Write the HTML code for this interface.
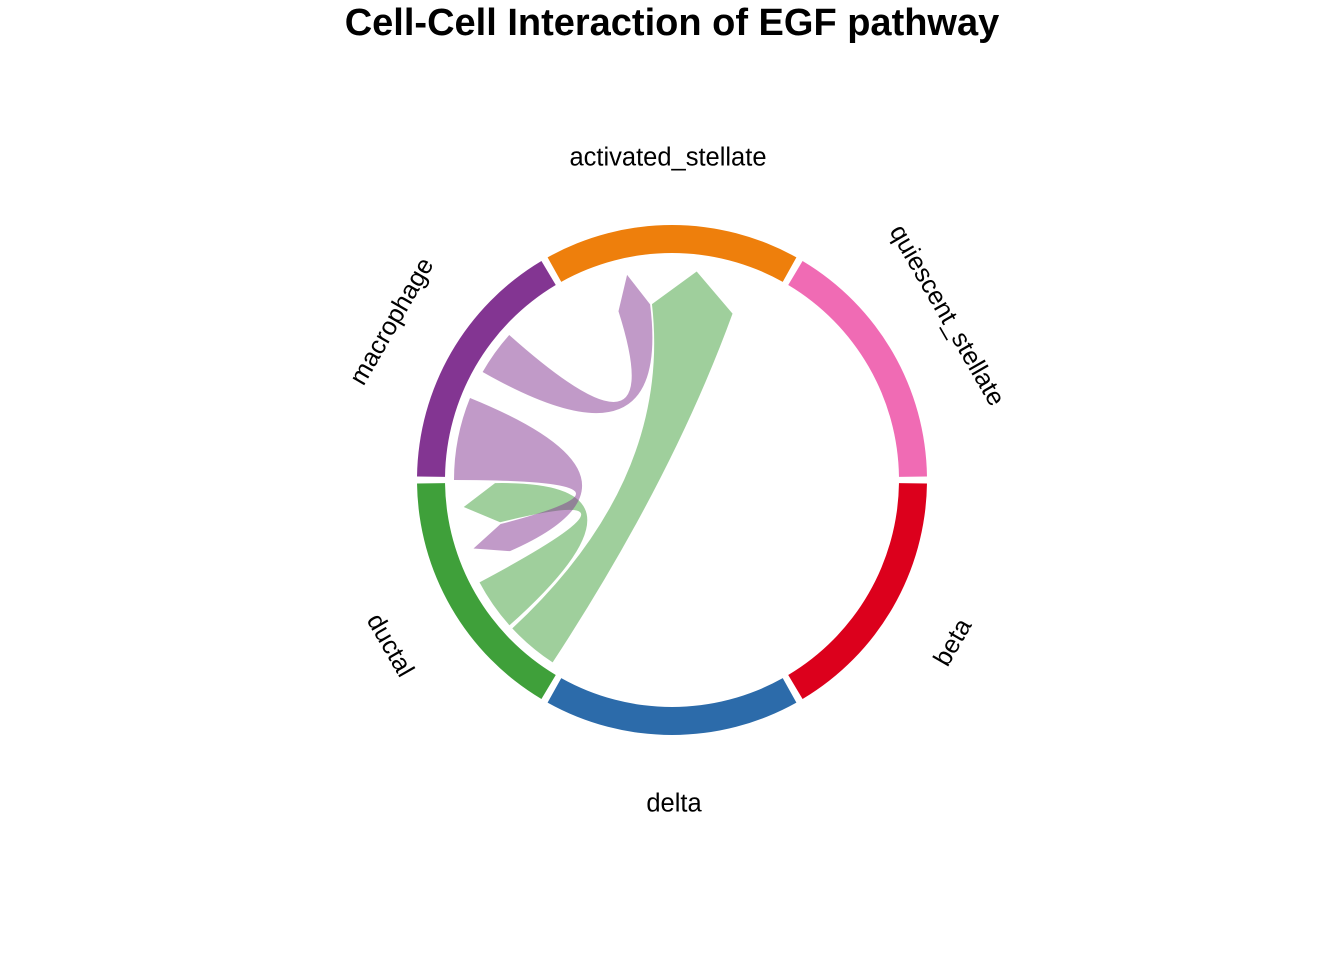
<!DOCTYPE html>
<html><head><meta charset="utf-8"><style>
body{margin:0;background:#fff;}
svg{display:block;font-family:"Liberation Sans",Arial,sans-serif;}
</style></head><body>
<svg id="chart" width="1344" height="960" viewBox="0 0 1344 960" xmlns="http://www.w3.org/2000/svg">
<text x="672" y="35" text-anchor="middle" font-size="38" font-weight="bold">Cell-Cell Interaction of EGF pathway</text>
<g id="rings"></g><g id="chords"></g><g id="labels"></g>
</svg>
<script>
const groups = ["activated_stellate","quiescent_stellate","beta","delta","ductal","macrophage"];
const groupColors = ["#EE7F0C","#F06BB4","#DC001C","#2C6BAA","#3FA03A","#833592"];
const linkSources = ["ductal","ductal","macrophage","macrophage"];
const linkTargets = ["ductal","activated_stellate","ductal","activated_stellate"];
const linkOutWeight = [13.8,13.9,22.1,12.0];
const linkInWeight = [12.8,26.5,9.3,10.5];
const linkColors = ["#3FA03A","#3FA03A","#833592","#833592"];

const NS="http://www.w3.org/2000/svg", cx=672, cy=480;
const R_OUT=255, R_IN=227, R_SRC=218, R_TGT=177, R_TIP=210;
const sectorStart = {activated_stellate:60,quiescent_stellate:0,beta:-60,delta:-120,ductal:180,macrophage:120};
function pt(a,r){const t=a*Math.PI/180;return [cx+r*Math.cos(t), cy-r*Math.sin(t)];}
function el(tag,attrs,parent){const e=document.createElementNS(NS,tag);for(const k in attrs)e.setAttribute(k,attrs[k]);parent.appendChild(e);return e;}

const rings=document.getElementById('rings');
groups.forEach((g,i)=>{
  const a0=sectorStart[g]+0.8, a1=sectorStart[g]+60-0.8;
  const p0=pt(a0,R_OUT),p1=pt(a1,R_OUT),q1=pt(a1,R_IN),q0=pt(a0,R_IN);
  const d=`M${p0} A${R_OUT},${R_OUT} 0 0 0 ${p1} L${q1} A${R_IN},${R_IN} 0 0 1 ${q0} Z`;
  const e=el('path',{d:d,fill:groupColors[i]},rings);
  
  
});

const inCursor={activated_stellate:[70,1],ductal:[181,1]};
const outCursor={ductal:[208,1],macrophage:[180,-1]};
const inGap=0.6, outGap=1.1, macOutGap=7.6;
const chords=document.getElementById('chords');
const tgtSpans=[],srcSpans=[];
[[0,2],[1,3]].forEach(order=>order.forEach(i=>{
  const c=inCursor[linkTargets[i]];
  const a=c[0], b=a+c[1]*linkInWeight[i];
  tgtSpans[i]=[Math.min(a,b),Math.max(a,b)];
  c[0]=b+c[1]*inGap;
}));
[0,1,2,3].forEach(i=>{
  const c=outCursor[linkSources[i]];
  const a=c[0], b=a+c[1]*linkOutWeight[i];
  srcSpans[i]=[Math.min(a,b),Math.max(a,b)];
  c[0]=b+c[1]*(linkSources[i]==='macrophage'?macOutGap:outGap);
});
linkSources.forEach((s,i)=>{
  const [sl,sh]=srcSpans[i],[tl,th]=tgtSpans[i];
  const S1=pt(sl,R_SRC),S2=pt(sh,R_SRC),T1=pt(tl,R_TGT),T2=pt(th,R_TGT),tip=pt((tl+th)/2,R_TIP);
  const d=`M${S1} A${R_SRC},${R_SRC} 0 0 0 ${S2} Q${cx},${cy} ${T1} L${tip} L${T2} Q${cx},${cy} ${S1} Z`;
  const e=el('path',{d:d,fill:linkColors[i],'fill-opacity':0.5},chords);
  
  
});

const labels=document.getElementById('labels');
const labelPos={activated_stellate:[668,159,0],quiescent_stellate:[946,316,60],beta:[954,643,-60],delta:[674,805,0],ductal:[389,646,60],macrophage:[393,322,-60]};
groups.forEach(g=>{
  const [x,y,r]=labelPos[g];
  const t=el('text',{x:x,y:y,'text-anchor':'middle','dominant-baseline':'middle','font-size':25.5,transform:`rotate(${r} ${x} ${y})`},labels);
  t.textContent=g;
  
  
});
</script>
</body></html>
